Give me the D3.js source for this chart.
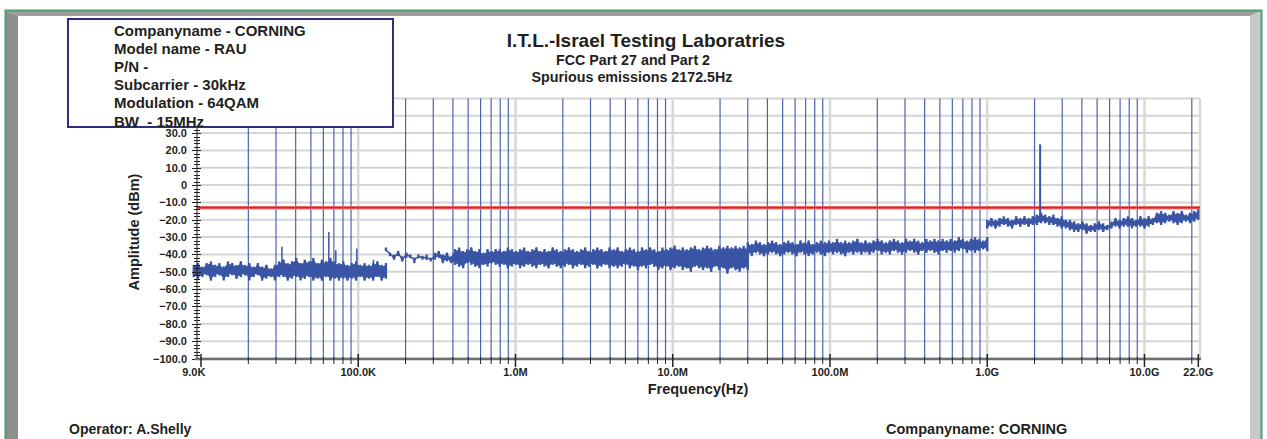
<!DOCTYPE html>
<html>
<head>
<meta charset="utf-8">
<script src="https://cdn.jsdelivr.net/npm/d3@7"></script>
<style>
  body { margin: 0; background: #fff; }
  text { font-family: "Liberation Sans", Arial, sans-serif; font-weight: bold; fill: #231f20; white-space: pre; }
</style>
</head>
<body>
<div class="chart"></div>
<script>
var svgWidth = 1267;
var svgHeight = 439;

// axis values and labels
var yGrid = [-100, -90, -80, -70, -60, -50, -40, -30, -20, -10, 0, 10, 20, 30, 40, 50];
var yLabelValues = [-100, -90, -80, -70, -60, -50, -40, -30, -20, -10, 0, 10, 20, 30];
var xLabelValues = [9e3, 1e5, 1e6, 1e7, 1e8, 1e9, 1e10, 2.2e10];
var xLabels = ["9.0K", "100.0K", "1.0M", "10.0M", "100.0M", "1.0G", "10.0G", "22.0G"];
var limitLevel = -13;

var titleLines = ["I.T.L.-Israel Testing Laboratries", "FCC Part 27 and Part 2", "Spurious emissions 2172.5Hz"];
var infoLines = ["Companyname - CORNING", "Model name - RAU", "P/N -", "Subcarrier - 30kHz", "Modulation - 64QAM", "BW  - 15MHz"];

// sweep 1: 9kHz - 150kHz (upper / lower envelope, dBm)
var sweep1 = [9e3, 1.5e5];
var hi1 = [-46,-45,-47,-45,-44,-46,-45,-47,-44,-45,-46,-44,-46,-45,-47,-45,
  -47,-46,-48,-46,-44,
  -43,-45,-44,-42,-45,-43,-44,-42,-45,-43,-44,-42,-44,
  -45,-44,-46,-45,-44,-46,-45,-46,-45,-44,-46,-45];
var lo1 = [-53,-54,-53,-52,-55,-53,-52,-55,-53,-52,-54,-53,-52,-55,-53,-52,
  -55,-54,-53,-55,-53,
  -53,-55,-54,-53,-55,-54,-53,-55,-54,-55,-53,-55,-54,
  -55,-54,-55,-54,-55,-53,-55,-54,-55,-53,-55,-54];

// sweep 2: 150kHz - 30MHz
var sweep2 = [1.5e5, 3e7];
var hi2 = [-36,-39,-40,-38,-41,-39,-40,-42,-40,-41,-40,-42,
  -39,-38,-40,-39,-41,
  -37,-36,-38,-37,-36,-38,-37,-39,-37,-38,-37,
  -37,-38,-36,-37,-38,-37,-36,-38,-37,-36,
  -38,-37,-38,-36,-37,-38,-37,-36,-37,-38,
  -37,-36,-38,-37,-36,-37,-38,-36,-37,-36,
  -38,-37,-36,-37,-38,-36,-37,-36,-37,-38,
  -36,-37,-36,-35,-37,-36,-37,-36,-35,-37,
  -36,-35,-36,-37,-35,-36,-35,-36,-35,-36,
  -35,-36];
var lo2 = [-38,-41,-43,-41,-44,-42,-42,-45,-42,-43,-43,-44,
  -43,-42,-45,-44,-45,
  -46,-47,-48,-45,-46,-47,-48,-46,-47,-45,-46,
  -47,-46,-48,-47,-46,-48,-47,-46,-47,-48,
  -46,-47,-48,-46,-47,-48,-47,-46,-48,-47,
  -46,-48,-47,-46,-48,-47,-46,-48,-47,-48,
  -47,-46,-48,-47,-49,-47,-48,-46,-47,-49,
  -48,-47,-49,-48,-47,-49,-48,-50,-47,-48,
  -49,-48,-50,-47,-49,-48,-51,-48,-49,-50,
  -48,-49];

// sweep 3: 30MHz - 1GHz
var sweep3 = [3e7, 1e9];
var hi3 = [-33,-34,-32,-33,-34,-33,-32,-33,-34,-33,
  -32,-33,-34,-32,-33,-32,-34,-33,-32,-33,
  -32,-33,-31,-33,-32,-33,-32,-31,-33,-32,
  -33,-32,-31,-32,-33,-32,-31,-32,-33,-31,
  -32,-31,-32,-33,-31,-32,-31,-32,-31,-32,
  -31,-32,-30,-31,-32,-31,-30,-31,-32,-30];
var lo3 = [-40,-41,-39,-40,-41,-40,-39,-40,-41,-40,
  -39,-40,-41,-39,-40,-41,-40,-39,-40,-41,
  -39,-40,-39,-40,-41,-39,-40,-39,-40,-39,
  -40,-39,-38,-40,-39,-40,-38,-39,-40,-39,
  -38,-39,-40,-38,-39,-38,-39,-40,-38,-39,
  -38,-39,-38,-37,-39,-38,-39,-38,-37,-38];

// sweep 4: 1GHz - 22GHz
var sweep4 = [1e9, 2.2e10];
var hi4 = [-20,-19,-20,-19,-18,-19,-20,-18,-19,-18,-19,-18,-17,
  -16,-17,-18,-17,-19,-18,-20,-20,
  -21,-22,-21,-22,-23,-22,-21,-22,-23,-21,
  -19,-20,-19,-18,-19,-20,-18,-19,-18,-19,
  -16,-15,-16,-17,-15,-16,-15,-17,-16,-15,-14];
var lo4 = [-25,-24,-25,-24,-23,-24,-25,-23,-24,-23,-24,-23,-23,
  -22,-22,-23,-23,-24,-25,-25,-26,
  -27,-27,-26,-28,-27,-27,-26,-27,-26,-25,
  -24,-25,-24,-24,-25,-24,-24,-25,-24,-23,
  -22,-23,-22,-21,-22,-23,-22,-21,-22,-21,-20];

// narrow spurs: frequency, base level, peak level
var spurs = [[32.7e3, -46, -35.5], [65e3, -45, -27], [72e3, -45, -37.5], [98e3, -46, -36.5],
  [125e3, -46, -43], [2.17e9, -18, 23.5]];

var blue = "#3a55a5";

var svg = d3.select(".chart")
  .append("svg")
  .attr("width", svgWidth)
  .attr("height", svgHeight);

// frame with bevels
svg.append("rect").attr("x", 6).attr("y", 11).attr("width", 1255).attr("height", 440).attr("fill", "#fff");
svg.append("polygon").attr("points", "6,11 18,16 18,439 6,439").attr("fill", "#8e8e8e");
svg.append("polygon").attr("points", "6,11 1261,11 1250,16 18,16").attr("fill", "#9d9d9d");
svg.append("polygon").attr("points", "1261,11 1261,439 1250,439 1250,16").attr("fill", "#c9c9c9");
svg.append("path").attr("d", "M5.5,439 V10.5 H1261.5 V439")
  .attr("fill", "none").attr("stroke", "#4f9d70").attr("stroke-width", 2);

var x = d3.scaleLog().domain([1e4, 2.2e10]).range([201, 1198.3]);
var y = d3.scaleLinear().domain([-100, 50]).range([358.5, 98.4]);

var plotLeft = 197, plotRight = 1200;

// minor / major frequencies
var majors = [], minors = [];
for (var p = 4; p <= 10; p++) {
  var dec = Math.pow(10, p);
  majors.push(dec);
  for (var m = 2; m <= 9; m++) {
    if (m * dec < 2.2e10) minors.push(m * dec);
  }
}

var grid = svg.append("g");
grid.selectAll("line.h").data(yGrid).enter().append("line")
  .attr("x1", plotLeft).attr("x2", plotRight)
  .attr("y1", d => y(d)).attr("y2", d => y(d))
  .attr("stroke", "#d4d4d4").attr("stroke-width", 2);
grid.selectAll("line.vmaj").data(majors.slice(1)).enter().append("line")
  .attr("x1", d => x(d)).attr("x2", d => x(d))
  .attr("y1", y(50)).attr("y2", y(-100))
  .attr("stroke", "#d8d8d8").attr("stroke-width", 2.5);
grid.append("line").attr("x1", plotRight).attr("x2", plotRight)
  .attr("y1", y(50)).attr("y2", y(-100)).attr("stroke", "#d8d8d8").attr("stroke-width", 2.5);
grid.selectAll("line.vmin").data(minors).enter().append("line")
  .attr("x1", d => x(d)).attr("x2", d => x(d))
  .attr("y1", y(50)).attr("y2", y(-100))
  .attr("stroke", blue).attr("stroke-width", 1.2).attr("opacity", 0.9);

// limit line
svg.append("line")
  .attr("x1", plotLeft).attr("x2", plotRight)
  .attr("y1", y(limitLevel)).attr("y2", y(limitLevel))
  .attr("stroke", "#f08080").attr("stroke-width", 3.5);
svg.append("line")
  .attr("x1", plotLeft).attr("x2", plotRight)
  .attr("y1", y(limitLevel)).attr("y2", y(limitLevel))
  .attr("stroke", "#e31e24").attr("stroke-width", 1.6);

// trace: solid core plus one stroke per sweep point from min to max
var sweeps = [[sweep1, hi1, lo1], [sweep2, hi2, lo2], [sweep3, hi3, lo3], [sweep4, hi4, lo4]];
var core = d3.area()
  .x(d => x(d.f))
  .y0(d => y(Math.min(d.lo + 1.4, (d.lo + d.hi) / 2)))
  .y1(d => y(Math.max(d.hi - 1.4, (d.lo + d.hi) / 2)));
var trace = svg.append("g");

sweeps.forEach(function(s) {
  var n = s[1].length;
  var pts = s[1].map(function(v, i) {
    return { f: s[0][0] * Math.pow(s[0][1] / s[0][0], i / (n - 1)), hi: v, lo: s[2][i] };
  });
  trace.append("path").datum(pts)
    .attr("d", core)
    .attr("fill", blue).attr("stroke", blue).attr("stroke-width", 1);
  trace.selectAll(null).data(pts).enter().append("line")
    .attr("x1", d => x(d.f)).attr("x2", d => x(d.f))
    .attr("y1", d => y(d.lo)).attr("y2", d => y(d.hi))
    .attr("stroke", blue).attr("stroke-width", 2.4);
  trace.append("path").datum(pts)
    .attr("d", d3.line().x(d => x(d.f)).y((d, i) => y(i % 2 ? d.hi : d.lo)))
    .attr("fill", "none").attr("stroke", blue).attr("stroke-width", 1);
});

trace.selectAll("line.spur").data(spurs).enter().append("line")
  .attr("x1", d => x(d[0])).attr("x2", d => x(d[0]))
  .attr("y1", d => y(d[1])).attr("y2", d => y(d[2]))
  .attr("stroke", blue).attr("stroke-width", d => d[0] > 1e9 ? 2 : 1.5);

// y axis
var yAx = svg.append("g");
yAx.append("line").attr("x1", plotLeft).attr("x2", plotLeft)
  .attr("y1", y(50)).attr("y2", y(-100)).attr("stroke", "#222").attr("stroke-width", 1);
var yMinor = d3.range(-100, 51, 2);
yAx.selectAll("line.ym").data(yMinor).enter().append("line")
  .attr("x1", d => d % 10 === 0 ? plotLeft - 5 : plotLeft - 3)
  .attr("x2", d => d % 10 === 0 ? plotLeft + 4 : plotLeft + 3)
  .attr("y1", d => Math.round(y(d)) + 0.5).attr("y2", d => Math.round(y(d)) + 0.5)
  .attr("stroke", "#222").attr("stroke-width", 1);
yAx.selectAll("text").data(yLabelValues).enter().append("text")
  .attr("x", 187).attr("y", d => y(d))
  .attr("text-anchor", "end").attr("dominant-baseline", "central")
  .style("font-size", "11px")
  .text(d => d === 0 ? "0" : d3.format(".1f")(d));

// x axis
var xAx = svg.append("g");
xAx.append("line").attr("x1", 195).attr("x2", plotRight + 1)
  .attr("y1", 359).attr("y2", 359).attr("stroke", "#6d6d6d").attr("stroke-width", 2.5);
xAx.selectAll("line.xm").data(minors).enter().append("line")
  .attr("x1", d => x(d)).attr("x2", d => x(d))
  .attr("y1", 357).attr("y2", 364).attr("stroke", "#222").attr("stroke-width", 1);
xAx.selectAll("line.xM").data(majors.concat([2.2e10])).enter().append("line")
  .attr("x1", d => x(d)).attr("x2", d => x(d))
  .attr("y1", 354).attr("y2", 367).attr("stroke", "#222").attr("stroke-width", 1.5);
xAx.selectAll("text").data(xLabelValues).enter().append("text")
  .attr("x", d => x(d)).attr("y", 372)
  .attr("text-anchor", "middle").attr("dominant-baseline", "central")
  .style("font-size", "11px")
  .text((d, i) => xLabels[i]);

// axis titles
svg.append("text")
  .attr("transform", "translate(134,232) rotate(-90)")
  .attr("text-anchor", "middle").attr("dominant-baseline", "central")
  .style("font-size", "14.5px")
  .text("Amplitude (dBm)");
svg.append("text")
  .attr("x", 698).attr("y", 389)
  .attr("text-anchor", "middle").attr("dominant-baseline", "central")
  .style("font-size", "14.5px")
  .text("Frequency(Hz)");

// titles
svg.append("text").attr("x", 646).attr("y", 40).attr("text-anchor", "middle")
  .attr("dominant-baseline", "central").style("font-size", "19px").text(titleLines[0]);
svg.append("text").attr("x", 633).attr("y", 60).attr("text-anchor", "middle")
  .attr("dominant-baseline", "central").style("font-size", "14.3px").text(titleLines[1]);
svg.append("text").attr("x", 632).attr("y", 77).attr("text-anchor", "middle")
  .attr("dominant-baseline", "central").style("font-size", "14.3px").text(titleLines[2]);

// info box
svg.append("rect").attr("x", 68).attr("y", 19).attr("width", 325).attr("height", 108)
  .attr("fill", "#fff").attr("stroke", "#2e2e7e").attr("stroke-width", 2);
svg.selectAll("text.info").data(infoLines).enter().append("text")
  .attr("x", 114).attr("y", (d, i) => 35.5 + i * 18.2)
  .style("font-size", "15px")
  .text(d => d);

// footer
svg.append("text").attr("x", 69).attr("y", 429).attr("dominant-baseline", "central")
  .style("font-size", "14px").text("Operator: A.Shelly");
svg.append("text").attr("x", 886).attr("y", 429).attr("dominant-baseline", "central")
  .style("font-size", "14.5px").text("Companyname: CORNING");
</script>
</body>
</html>
